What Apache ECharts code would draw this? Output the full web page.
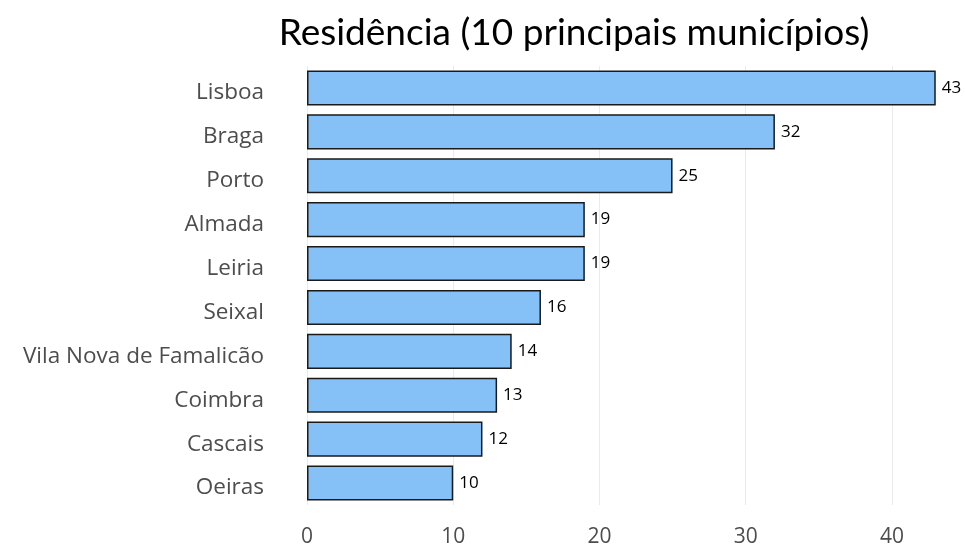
<!DOCTYPE html>
<html>
<head>
<meta charset="utf-8">
<script src="https://cdn.jsdelivr.net/npm/echarts@6/dist/echarts.min.js"></script>
<style>
  html, body { margin: 0; padding: 0; background: #fff; }
  #chart { width: 965px; height: 548px; }
</style>
</head>
<body>
<div id="chart"></div>
<script>
// municípios, de cima para baixo
const municipios = ['Lisboa', 'Braga', 'Porto', 'Almada', 'Leiria', 'Seixal',
  'Vila Nova de Famalicão', 'Coimbra', 'Cascais', 'Oeiras'];
const contagens = [43, 32, 25, 19, 19, 16, 14, 13, 12, 10];
const ticksX = [0, 10, 20, 30, 40];

const fonteTitulo = 'Lato, sans-serif';
const fonte = '"Open Sans", Lato, sans-serif';

const myChart = echarts.init(document.getElementById('chart'));

myChart.setOption({
  animation: false,
  title: {
    text: 'Residência (10 principais municípios)',
    left: 569,
    textAlign: 'center',
    top: 10,
    textStyle: {
      fontFamily: fonteTitulo,
      fontSize: 37,
      fontWeight: 'normal',
      color: '#000'
    }
  },
  grid: {
    left: 307,
    right: -2,
    top: 66,
    bottom: 38,
    containLabel: false
  },
  xAxis: {
    type: 'value',
    min: 0,
    max: 45,
    interval: 10,
    axisLine: { show: false },
    axisTick: { show: false },
    splitLine: { show: true, lineStyle: { color: '#ebebeb', width: 1 } },
    axisLabel: {
      fontFamily: fonte,
      fontSize: 21,
      color: '#4d4d4d',
      margin: 22,
      showMaxLabel: false,
      formatter: v => (ticksX.includes(v) ? String(v) : '')
    }
  },
  yAxis: {
    type: 'category',
    inverse: true,
    data: municipios,
    axisLine: { show: false },
    axisTick: { show: false },
    splitLine: { show: false },
    axisLabel: {
      fontFamily: fonte,
      fontSize: 22.5,
      color: '#4d4d4d',
      margin: 43,
      verticalAlign: 'top',
      lineHeight: 10
    }
  },
  series: [
    {
      type: 'bar',
      data: contagens,
      barCategoryGap: '20%',
      itemStyle: {
        color: '#85c1f7',
        borderColor: '#1a1a1a',
        borderWidth: 1.5
      },
      label: {
        show: true,
        position: 'right',
        distance: 6,
        fontFamily: fonte,
        fontSize: 17,
        color: '#000'
      }
    }
  ]
});
</script>
</body>
</html>
